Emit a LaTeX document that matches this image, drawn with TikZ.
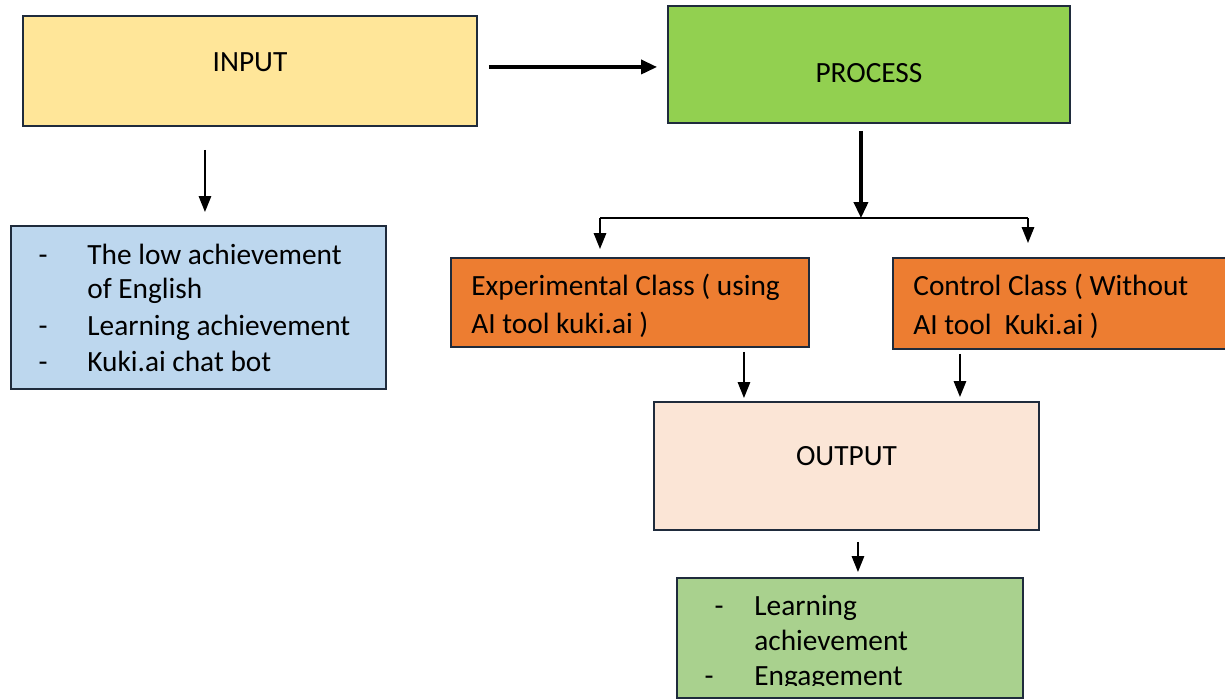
\documentclass[tikz,border=0pt]{standalone}
\usepackage{fontspec}
\setmainfont{Carlito}
\usetikzlibrary{arrows.meta}
\definecolor{inputyellow}{HTML}{FFE699}
\definecolor{processgreen}{HTML}{92D050}
\definecolor{listblue}{HTML}{BDD7EE}
\definecolor{classorange}{HTML}{ED7D31}
\definecolor{outputpink}{HTML}{FBE5D6}
\definecolor{resultgreen}{HTML}{A9D18E}
\definecolor{boxline}{HTML}{1F2B3C}
\tikzset{
  box/.style={draw=boxline, line width=1.1pt, inner sep=0pt, anchor=north west},
  txt/.style={font=\fontsize{16.7}{20}\selectfont, inner sep=0pt},
  thinarrow/.style={-{Triangle[length=9pt,width=7pt]}, line width=1pt},
  thickarrow/.style={-{Triangle[length=9pt,width=8pt]}, line width=1.8pt}
}
\begin{document}
\begin{tikzpicture}
        \clip (0,0) rectangle (24.5,-13.96);
        % Boxes
        \node[box, fill=inputyellow, minimum width=9.08cm, minimum height=2.20cm] (inp) at (0.44,-0.30) {};
        \node[box, fill=processgreen, minimum width=8.04cm, minimum height=2.34cm] (proc) at (13.34,-0.10) {};
        \node[box, fill=listblue, minimum width=7.50cm, minimum height=3.26cm] (issues) at (0.20,-4.50) {};
        \node[box, fill=classorange, minimum width=7.16cm, minimum height=1.78cm] (expcl) at (9.00,-5.14) {};
        \node[box, fill=classorange, minimum width=6.80cm, minimum height=1.82cm] (ctrlcl) at (17.84,-5.14) {};
        \node[box, fill=outputpink, minimum width=7.70cm, minimum height=2.56cm] (outp) at (13.06,-8.02) {};
        \node[box, fill=resultgreen, minimum width=6.92cm, minimum height=2.40cm] (result) at (13.52,-11.54) {};
        % Titles
        \node[txt] (tinp) at ([yshift=0.18cm]inp.center) {INPUT};
        \node[txt] (tproc) at ([yshift=-0.17cm]proc.center) {PROCESS};
        \node[txt] (tout) at ([yshift=0.20cm]outp.center) {OUTPUT};
        % Input list
        \node[txt, anchor=base] (d1) at (0.86,-5.28) {-};
        \node[txt, anchor=base west] (l1) at (1.74,-5.28) {The low achievement};
        \node[txt, anchor=base west] (l2) at (1.74,-5.96) {of English};
        \node[txt, anchor=base] (d3) at (0.86,-6.70) {-};
        \node[txt, anchor=base west] (l3) at (1.74,-6.70) {Learning achievement};
        \node[txt, anchor=base] (d4) at (0.86,-7.42) {-};
        \node[txt, anchor=base west] (l4) at (1.74,-7.42) {Kuki.ai chat bot};
        % Classes
        \node[txt, anchor=base west] (e1) at (9.42,-5.90) {Experimental Class ( using};
        \node[txt, anchor=base west] (e2) at (9.42,-6.66) {AI tool kuki.ai )};
        \node[txt, anchor=base west] (c1) at (18.26,-5.90) {Control Class ( Without};
        \node[txt, anchor=base west] (c2) at (18.26,-6.68) {AI tool\ \ Kuki.ai )};
        % Results, last line cut off by the frame
        \begin{scope}
          \clip (13.52,-11.54) rectangle (20.44,-13.71);
          \node[txt, anchor=base] (r1d) at (14.38,-12.30) {-};
          \node[txt, anchor=base west] (r1) at (15.08,-12.30) {Learning};
          \node[txt, anchor=base west] (r2) at (15.08,-13.00) {achievement};
          \node[txt, anchor=base] (r3d) at (14.18,-13.70) {-};
          \node[txt, anchor=base west] (r3) at (15.08,-13.70) {Engagement};
        \end{scope}
        % Arrows
        \coordinate (forkL) at (12.00,-4.36);
        \coordinate (forkR) at (20.56,-4.36);
        \draw[thickarrow, shorten <=0.22cm, shorten >=0.20cm] ([yshift=0.08cm]inp.east) -- ([yshift=0.08cm]inp.east -| proc.west);
        \draw[thinarrow, shorten <=0.46cm, shorten >=0.26cm] ([xshift=-0.90cm]inp.south) -- ([xshift=-0.90cm]inp.south |- issues.north);
        \draw[thickarrow, shorten <=0.14cm] ([xshift=-0.16cm]proc.south) -- ([xshift=-0.16cm]proc.south |- forkL);
        \draw[line width=1.1pt] (forkL) -- (forkR);
        \draw[thinarrow, shorten >=0.16cm] (forkL) -- (forkL |- expcl.north);
        \draw[thinarrow, shorten >=0.28cm] (forkR) -- (forkR |- ctrlcl.north);
        \draw[thinarrow, shorten <=0.08cm, shorten >=0.06cm] ([xshift=2.28cm]expcl.south) -- ([xshift=2.28cm]expcl.south |- outp.north);
        \draw[thinarrow, shorten <=0.08cm, shorten >=0.08cm] ([xshift=-2.06cm]ctrlcl.south) -- ([xshift=-2.06cm]ctrlcl.south |- outp.north);
        \draw[thinarrow, shorten <=0.22cm, shorten >=0.10cm] ([xshift=0.23cm]outp.south) -- ([xshift=0.23cm]outp.south |- result.north);
      \end{tikzpicture}
\end{document}
